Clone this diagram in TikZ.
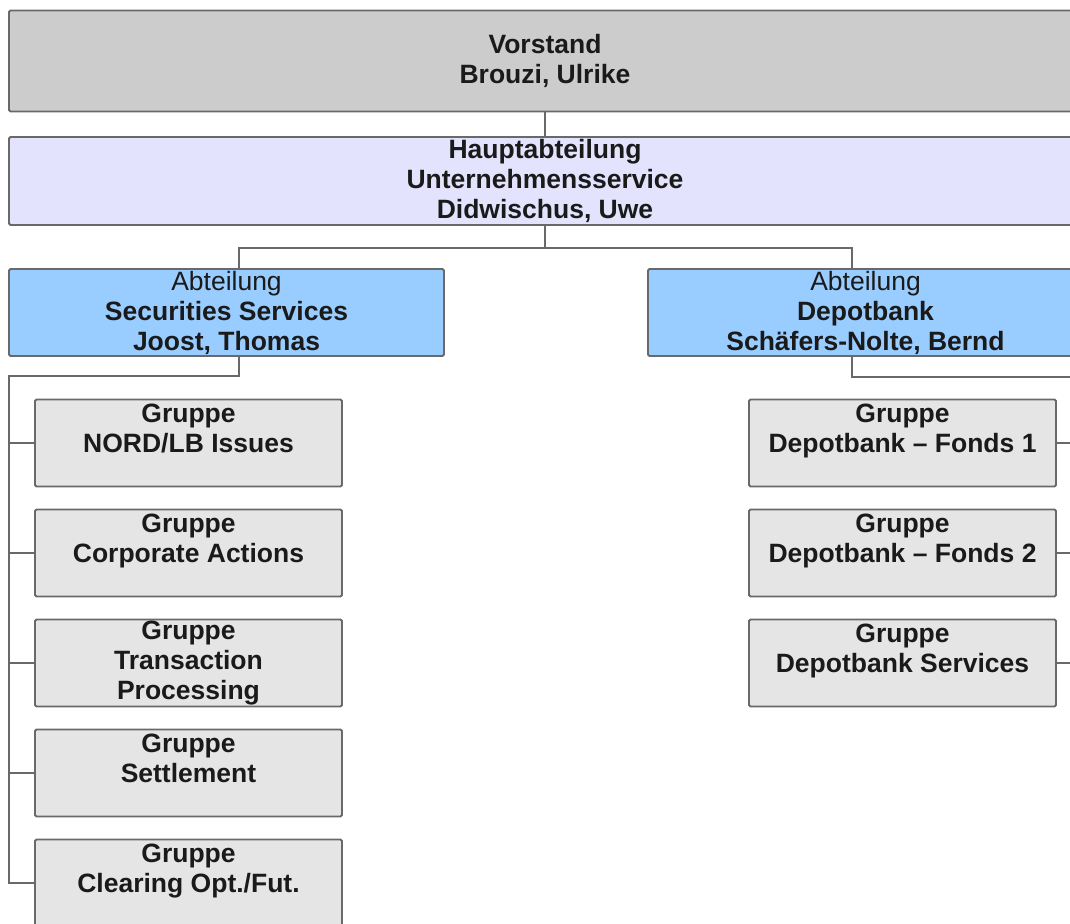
\documentclass[tikz,border=0pt]{standalone}
\usepackage{fontspec}
\setmainfont{Liberation Sans}
\usepackage{xcolor}
\definecolor{vorstandgray}{RGB}{204,204,204}
\definecolor{hauptlila}{RGB}{227,227,253}
\definecolor{abtblue}{RGB}{153,204,255}
\definecolor{gruppegray}{RGB}{229,229,229}
\definecolor{linegray}{RGB}{105,105,105}
\definecolor{textdark}{RGB}{26,26,26}
\usepackage{tikz}
\usetikzlibrary{calc}

\begin{document}
\begin{tikzpicture}[x=1pt, y=-1pt,
        box/.style={rectangle, rounded corners=1.5pt, draw=linegray, line width=1.9pt, fill=#1, inner sep=0pt, align=center, text=textdark, font=\fontsize{26.5}{30}\selectfont\bfseries},
        gruppe/.style={box=gruppegray, minimum width=307pt, minimum height=87pt},
        conn/.style={draw=linegray, line width=1.9pt}
    ]
        \useasboundingbox (0,0) rectangle (1070,923);
        \fill[white] (0,0) rectangle (1070,923);
        \clip (0,0) rectangle (1070,923);

        % top levels
        \node[box=vorstandgray, minimum width=1072pt, minimum height=101pt] (vorstand) at (545, 61) {Vorstand\\Brouzi, Ulrike};
        \node[box=hauptlila, minimum width=1072pt, minimum height=88pt] (haupt) at (545, 181) {Hauptabteilung\\Unternehmensservice\\Didwischus, Uwe};

        % departments
        \node[box=abtblue, minimum width=435pt, minimum height=87pt] (secserv) at (226.5, 312.5) {{\mdseries Abteilung}\\Securities Services\\Joost, Thomas};
        \node[box=abtblue, minimum width=435pt, minimum height=87pt] (depotbank) at (865.5, 312.5) {{\mdseries Abteilung}\\Depotbank\\Schäfers-Nolte, Bernd};

        % groups, left side
        \node[gruppe] (g-nord) at (188.5, 443) {Gruppe\\NORD/LB Issues\\~};
        \node[gruppe] (g-corp) at (188.5, 553) {Gruppe\\Corporate Actions\\~};
        \node[gruppe] (g-trans) at (188.5, 663) {Gruppe\\Transaction\\Processing};
        \node[gruppe] (g-settle) at (188.5, 773) {Gruppe\\Settlement\\~};
        \node[gruppe] (g-clear) at (188.5, 883) {Gruppe\\Clearing Opt./Fut.\\~};

        % groups, right side
        \node[gruppe] (g-fonds1) at (902.5, 443) {Gruppe\\Depotbank -- Fonds 1\\~};
        \node[gruppe] (g-fonds2) at (902.5, 553) {Gruppe\\Depotbank -- Fonds 2\\~};
        \node[gruppe] (g-dbserv) at (902.5, 663) {Gruppe\\Depotbank Services\\~};

        \coordinate (lbus) at (9, 376);
        \coordinate (rbus) at (1090, 377);

        \draw[conn] (vorstand) -- (haupt);
        \draw[conn] (haupt.south) -- ++(0,22) -| ($(secserv.north)+(12.5,0)$);
        \draw[conn] (haupt.south) -- ++(0,22) -| ($(depotbank.north)+(-13.5,0)$);

        \draw[conn] ($(secserv.south)+(12.5,0)$) |- (lbus) -- (lbus |- g-clear.west) -- (g-clear.west);
        \draw[conn] (g-nord.west) -- (g-nord.west -| lbus);
        \draw[conn] (g-corp.west) -- (g-corp.west -| lbus);
        \draw[conn] (g-trans.west) -- (g-trans.west -| lbus);
        \draw[conn] (g-settle.west) -- (g-settle.west -| lbus);

        \draw[conn] ($(depotbank.south)+(-13.5,0)$) |- (rbus) -- (rbus |- g-dbserv.east);
        \draw[conn] (g-fonds1.east) -- (g-fonds1.east -| rbus);
        \draw[conn] (g-fonds2.east) -- (g-fonds2.east -| rbus);
        \draw[conn] (g-dbserv.east) -- (g-dbserv.east -| rbus);
    \end{tikzpicture}
\end{document}
